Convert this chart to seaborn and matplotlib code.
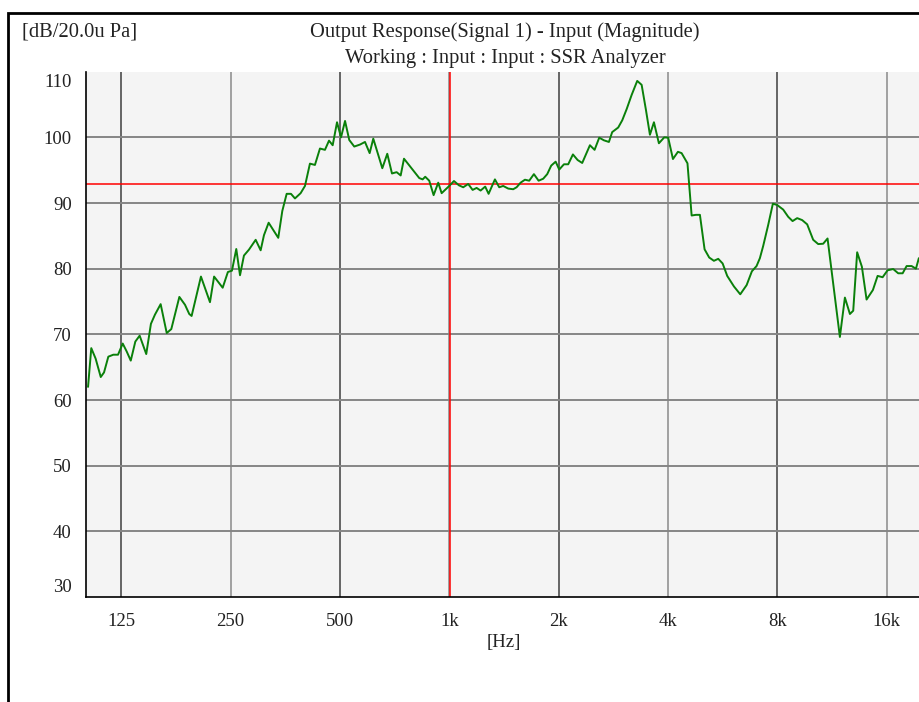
import matplotlib
matplotlib.use("Agg")
import matplotlib.pyplot as plt
import matplotlib.transforms as mtransforms
from matplotlib.lines import Line2D
import numpy as np
import pandas as pd
import seaborn as sns

# ---------------- data ----------------
freq_hz = [
    101.3, 103.4, 106.3, 109.8, 112.1, 115.2, 118.9, 122.5, 126.2, 129.4,
    132.8, 136.7, 140.5, 146.5, 150.9, 154.8, 160.5, 166.8, 171.7, 180.7,
    187.3, 192.4, 195.3, 207.2, 219.4, 225.2, 237.8, 245.8, 252.2, 259.2,
    265.4, 272.1, 280.9, 293.1, 302.5, 308.9, 318.2, 338.2, 347.0, 356.7,
    366.6, 376.0, 389.7, 400.6, 413.4, 426.7, 440.5, 454.7, 466.5, 477.5,
    490.8, 503.4, 516.4, 530.4, 547.5, 567.6, 586.0, 603.6, 617.6, 654.0,
    674.9, 695.3, 716.2, 734.7, 750.3, 826.6, 844.4, 858.4, 880.5, 905.3,
    932.1, 952.5, 999.5, 1029.8, 1062.7, 1092.2, 1127.1, 1159.2, 1189.0, 1219.2,
    1255.4, 1282.7, 1335.2, 1372.0, 1407.0, 1452.5, 1499.2, 1531.8, 1571.2, 1614.9,
    1659.2, 1709.4, 1761.0, 1813.1, 1859.8, 1907.7, 1961.9, 2007.2, 2067.8, 2124.6,
    2188.8, 2255.0, 2321.6, 2437.8, 2510.9, 2586.1, 2664, 2749.6, 2807.4, 2916.5,
    2992, 3076.8, 3175.2, 3290, 3383.4, 3476.5, 3565.8, 3657.6, 3774.4, 3904.6,
    4003.5, 4126, 4258, 4358.7, 4523.8, 4644.8, 4772.2, 4895, 5042, 5192,
    5348.8, 5498, 5652.5, 5820, 6072.6, 6321, 6581.8, 6804, 7009, 7158,
    7309, 7545, 7773, 7987, 8298, 8566, 8806, 9067, 9358, 9661,
    10035, 10359, 10691, 10992, 11885, 12269, 12666, 12934, 13261, 13664,
    14076, 14651, 15095, 15582, 16079, 16662, 17200, 17690, 18142, 18726,
    19245, 19605,
]
level_db = [
    62.0, 67.9, 66.3, 63.5, 64.2, 66.6, 66.9, 66.9, 68.6, 67.4,
    66.0, 68.9, 69.8, 67.0, 71.6, 73.0, 74.6, 70.2, 70.8, 75.7,
    74.5, 73.1, 72.8, 78.8, 74.9, 78.8, 77.1, 79.5, 79.7, 83.0,
    79.0, 82.0, 82.9, 84.4, 82.8, 85.1, 87.0, 84.7, 88.8, 91.4,
    91.4, 90.7, 91.5, 92.6, 96.0, 95.8, 98.3, 98.1, 99.5, 98.8,
    102.3, 100.0, 102.5, 99.6, 98.6, 98.9, 99.3, 97.6, 99.8, 95.3,
    97.5, 94.5, 94.7, 94.2, 96.75, 93.8, 93.6, 94.0, 93.4, 91.2,
    93.1, 91.5, 92.6, 93.35, 92.7, 92.4, 92.9, 92.0, 92.3, 91.9,
    92.5, 91.4, 93.6, 92.4, 92.6, 92.2, 92.1, 92.4, 93.1, 93.55,
    93.4, 94.4, 93.4, 93.7, 94.4, 95.7, 96.3, 95.1, 95.9, 95.9,
    97.4, 96.55, 96.1, 98.8, 98.1, 99.95, 99.55, 99.3, 100.8, 101.5,
    102.6, 104.3, 106.45, 108.6, 108.0, 104.2, 100.4, 102.3, 99.1, 100.0,
    99.95, 96.7, 97.8, 97.6, 96.05, 88.1, 88.2, 88.2, 82.95, 81.7,
    81.2, 81.5, 80.8, 78.9, 77.3, 76.1, 77.5, 79.6, 80.4, 81.6,
    83.45, 86.65, 89.9, 89.7, 89.0, 87.9, 87.25, 87.7, 87.4, 86.75,
    84.4, 83.75, 83.8, 84.6, 69.6, 75.6, 73.1, 73.6, 82.5, 80.3,
    75.3, 76.75, 78.9, 78.7, 79.75, 79.95, 79.3, 79.3, 80.4, 80.4,
    80.0, 81.6,
]

x_ticks = [125, 250, 500, 1000, 2000, 4000, 8000, 16000]
x_tick_labels = ["125", "250", "500", "1k", "2k", "4k", "8k", "16k"]
y_ticks = [30, 40, 50, 60, 70, 80, 90, 100, 110]
x_range = (100, 20000)
y_range = (30, 110)
reference_level_db = 92.84
cursor_freq_hz = 1007

title_line1 = "Output Response(Signal 1) - Input (Magnitude)"
title_line2 = "Working : Input : Input : SSR Analyzer"
y_unit = "[dB/20.0u Pa]"
x_unit = "[Hz]"

# ---------------- style ----------------
sns.set_style("white")
plt.rcParams["font.family"] = ["Liberation Serif", "DejaVu Serif"]
text_color = "#222222"

W, H = 919, 702
fig = plt.figure(figsize=(W / 100, H / 100), dpi=100)
fig.patch.set_facecolor("white")

left_px, right_px, top_px, bottom_px = 86, 922, 71.7, 597
ax = fig.add_axes([left_px / W, 1 - bottom_px / H,
                   (right_px - left_px) / W, (bottom_px - top_px) / H])
ax.set_facecolor("#f4f4f4")

df = pd.DataFrame({"freq": freq_hz, "level": level_db})

ax.set_xscale("log")
ax.set_xlim(*x_range)
ax.set_ylim(*y_range)

# grid
for i, xt in enumerate(x_ticks):
    ax.axvline(xt, color="#5a5a5a" if i % 2 == 0 else "#9a9a9a",
               lw=1.3, zorder=1)
for yt in y_ticks[1:-1]:
    ax.axhline(yt, color="#858585", lw=1.4, zorder=1)

# reference lines
ax.axhline(reference_level_db, color="#ff0000", lw=1.1, zorder=2)
ax.axvline(cursor_freq_hz, color="#ff0000", lw=1.1, zorder=2)

sns.lineplot(data=df, x="freq", y="level", ax=ax, color="#0a800a",
             lw=1.4, estimator=None, sort=False, zorder=3, legend=False)

ax.set_xticks(x_ticks)
ax.set_xticklabels(x_tick_labels)
ax.xaxis.set_minor_locator(matplotlib.ticker.NullLocator())
ax.set_yticks(y_ticks)
ax.set_yticklabels([str(v) for v in y_ticks])

for s in ["top", "right"]:
    ax.spines[s].set_visible(False)
for s in ["left", "bottom"]:
    ax.spines[s].set_color("black")
    ax.spines[s].set_linewidth(1.2)

ax.tick_params(axis="x", direction="out", length=7.2, width=1.0,
               color="black", pad=4.5, labelsize=13.5, labelcolor=text_color)
ax.tick_params(axis="y", direction="out", length=7.2, width=1.0,
               color="black", pad=3, labelsize=13.5, labelcolor=text_color)

ax.set_xlabel(x_unit, fontsize=13.5, color=text_color, labelpad=3)
ax.set_ylabel("")

# shift extreme y labels inward as in the reference
yt_objs = ax.yaxis.get_major_ticks()
shift_up = mtransforms.ScaledTranslation(0, 12 / 100, fig.dpi_scale_trans)
shift_dn = mtransforms.ScaledTranslation(0, -9 / 100, fig.dpi_scale_trans)
yt_objs[0].label1.set_transform(yt_objs[0].label1.get_transform() + shift_up)
yt_objs[-1].label1.set_transform(yt_objs[-1].label1.get_transform() + shift_dn)

# titles and unit label
cx = 505 / W
fig.text(cx, 1 - 32.5 / H, title_line1, ha="center", va="center",
         fontsize=14.8, color=text_color)
fig.text(cx, 1 - 58.5 / H, title_line2, ha="center", va="center",
         fontsize=14.8, color=text_color)
fig.text(22 / W, 1 - 32.5 / H, y_unit, ha="left", va="center",
         fontsize=14.8, color=text_color)

# outer frame (top and left edges)
frame = Line2D([8 / W, 8 / W, 1.05], [-0.05, 1 - 13 / H, 1 - 13 / H],
               transform=fig.transFigure, color="black", lw=2.0,
               solid_joinstyle="miter")
fig.add_artist(frame)

fig.savefig("out.png", dpi=100)
